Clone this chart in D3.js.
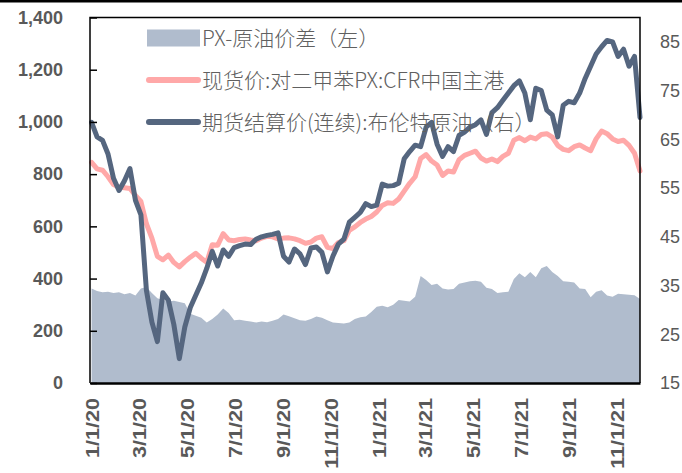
<!DOCTYPE html>
<html>
<head>
<meta charset="utf-8">
<script src="https://cdn.jsdelivr.net/npm/d3@7"></script>
<style>
  html, body { margin: 0; padding: 0; background: #fff; }
  svg { display: block; }
</style>
</head>
<body>
<svg id="chart" width="682" height="473"></svg>
<script>
// weekly observations, first one on Fri 3 Jan 2020
var startDate = new Date(2020, 0, 3);

// PX - crude spread, left axis
var spread = [362, 352, 348, 350, 345, 348, 340, 345, 335, 362,
  368, 345, 325, 318, 312, 315, 310, 305, 265, 258,
  250, 232, 245, 262, 285, 268, 240, 242, 238, 236,
  232, 236, 233, 238, 245, 262, 256, 248, 240, 238,
  245, 255, 250, 240, 232, 230, 228, 232, 245, 252,
  255, 272, 292, 296, 290, 300, 318, 315, 312, 330,
  410, 395, 375, 380, 362, 358, 360, 380, 385, 390,
  392, 388, 365, 360, 345, 348, 350, 398, 420, 405,
  425, 405, 440, 448, 425, 410, 390, 388, 385, 362,
  360, 328, 350, 355, 335, 330, 342, 340, 338, 336, 322];

// spot PX CFR China, left axis
var pxSpot = [845, 820, 815, 790, 760, 750, 748, 745, 718, 695,
  610, 555, 485, 472, 490, 462, 445, 465, 482, 497,
  478, 462, 530, 528, 572, 548, 545, 550, 552, 548,
  545, 555, 562, 560, 552, 555, 556, 552, 545, 535,
  540, 555, 560, 520, 515, 538, 545, 585, 598, 615,
  628, 638, 655, 680, 690, 688, 705, 735, 765, 790,
  860, 875, 850, 835, 795, 812, 808, 855, 872, 880,
  888, 862, 850, 858, 848, 868, 880, 930, 940, 928,
  942, 935, 952, 955, 942, 910, 895, 890, 905, 912,
  900, 890, 935, 965, 955, 935, 925, 930, 910, 880, 812];

// Brent continuous settlement, right axis
var brent = [68.5, 65.5, 64.8, 62, 57, 54.5, 56.5, 59, 52.5, 49.5,
  34, 27.5, 23.5, 33.5, 32, 27, 20, 26.5, 30.5, 33,
  35.5, 38.5, 42, 39, 42.3, 41, 42.8, 43.2, 43.5, 43.4,
  44.5, 45, 45.3, 45.5, 45.8, 41, 39.8, 42.5, 41.5, 39.3,
  42.7, 42.9, 41.8, 37.8, 41, 43.5, 44.5, 48, 49, 50,
  51.8, 51.2, 51.5, 55.8, 55.4, 55.5, 56, 61, 62.5, 63.8,
  63.5, 67.5, 68.5, 64, 61.5, 63.5, 62.5, 65.8, 66.5, 67.5,
  68, 69, 66, 70.5, 71.5, 73, 74.5, 76, 77, 74.5,
  69, 75.5, 75, 71, 70, 65.5, 72, 72.8, 72.5, 74.5,
  77.5, 80, 82.5, 84, 85.3, 85, 82, 83.5, 80, 82, 69.5];

var leftTicks = [0, 200, 400, 600, 800, 1000, 1200, 1400];
var rightTicks = [15, 25, 35, 45, 55, 65, 75, 85];
var dateTicks = ["2020-01-01", "2020-03-01", "2020-05-01", "2020-07-01", "2020-09-01", "2020-11-01",
  "2021-01-01", "2021-03-01", "2021-05-01", "2021-07-01", "2021-09-01", "2021-11-01"];

var legendNames = ["PX-原油价差（左）", "现货价:对二甲苯PX:CFR中国主港", "期货结算价(连续):布伦特原油（右）"];

(function () {
var dates = spread.map(function (d, i) { return d3.timeDay.offset(startDate, 7 * i); });
var parseDay = d3.timeParse("%Y-%m-%d");

var svg = d3.select("#chart"),
    pLeft = 90, pRight = 640, pTop = 17.5, pBottom = 383;

var x = d3.scaleTime()
    .domain([new Date(2020, 0, 1), dates[dates.length - 1]])
    .range([pLeft, pRight]);
var yL = d3.scaleLinear().domain([0, 1400]).range([pBottom, pTop]);
var yR = d3.scaleLinear().domain([15, 90]).range([pBottom, pTop]);

var cArea = "#b0bccd", cPink = "#ffa8a8", cBlue = "#55667f", cText = "#595959";

// frame line at very top of picture
svg.append("rect").attr("x", 0).attr("y", 0).attr("width", 682).attr("height", 2.5).attr("fill", "#000");

// area
var area = d3.area()
    .x(function (d, i) { return x(dates[i]); })
    .y0(yL(0))
    .y1(function (d) { return yL(d); });
svg.append("path").datum(spread).attr("d", area).attr("fill", cArea);

var linePx = d3.line()
    .x(function (d, i) { return x(dates[i]); })
    .y(function (d) { return yL(d); });
svg.append("path").datum(pxSpot).attr("d", linePx)
    .attr("fill", "none").attr("stroke", cPink).attr("stroke-width", 5)
    .attr("stroke-linejoin", "round").attr("stroke-linecap", "round");

var lineBrent = d3.line()
    .x(function (d, i) { return x(dates[i]); })
    .y(function (d) { return yR(d); });
svg.append("path").datum(brent).attr("d", lineBrent)
    .attr("fill", "none").attr("stroke", cBlue).attr("stroke-width", 5)
    .attr("stroke-linejoin", "round").attr("stroke-linecap", "round");

// plot frame
svg.append("path")
    .attr("d", "M" + pLeft + "," + pBottom + "V" + pTop + "H" + pRight + "V" + pBottom)
    .attr("fill", "none").attr("stroke", "#000").attr("stroke-width", 1.5);

// left axis
var gL = svg.append("g").attr("transform", "translate(" + pLeft + ",0)")
    .call(d3.axisLeft(yL).tickValues(leftTicks).tickFormat(d3.format(",")).tickSize(-7).tickPadding(27));
gL.select(".domain").remove();
gL.selectAll(".tick line").attr("stroke", "#000").attr("stroke-width", 1.5);
gL.selectAll("text").attr("fill", cText)
    .style("font-family", "'Liberation Sans', Arial, sans-serif")
    .style("font-size", "18px").style("font-weight", "bold");

// right axis
var gR = svg.append("g").attr("transform", "translate(" + pRight + ",0)")
    .call(d3.axisRight(yR).tickValues(rightTicks).tickSize(0).tickPadding(20));
gR.select(".domain").remove();
gR.selectAll("text").attr("fill", cText)
    .style("font-family", "'Liberation Sans', Arial, sans-serif")
    .style("font-size", "18px");

// bottom axis
var gX = svg.append("g").attr("transform", "translate(0," + pBottom + ")")
    .call(d3.axisBottom(x).tickValues(dateTicks.map(parseDay)).tickFormat(d3.timeFormat("%-m/%-d/%y")).tickSize(0));
gX.select(".domain").attr("stroke", "#000").attr("stroke-width", 2.5);
gX.selectAll("text")
    .attr("fill", cText)
    .attr("text-anchor", "end")
    .attr("x", 0).attr("y", 0).attr("dy", "0.36em")
    .attr("transform", "translate(2,15) rotate(-90) scale(1.2,1)")
    .style("font-family", "'Liberation Sans', Arial, sans-serif")
    .style("font-size", "18px").style("font-weight", "bold");

// legend
var lg = svg.append("g").attr("transform", "translate(147,0)");
var rows = [38, 80, 122];
lg.append("rect").attr("x", 0).attr("y", rows[0] - 8.5).attr("width", 53).attr("height", 17).attr("fill", cArea);
lg.append("line").attr("x1", 2).attr("x2", 51).attr("y1", rows[1]).attr("y2", rows[1])
    .attr("stroke", cPink).attr("stroke-width", 6).attr("stroke-linecap", "round");
lg.append("line").attr("x1", 2).attr("x2", 51).attr("y1", rows[2]).attr("y2", rows[2])
    .attr("stroke", cBlue).attr("stroke-width", 6).attr("stroke-linecap", "round");
lg.selectAll("text.lab").data(legendNames).enter().append("text")
    .attr("class", "lab")
    .attr("x", 55)
    .attr("y", function (d, i) { return rows[i]; })
    .attr("dy", "0.36em")
    .attr("fill", "#606060")
    .style("font-family", "'Noto Sans CJK SC', 'Noto Sans', sans-serif")
    .style("font-size", "21px")
    .style("font-weight", "300")
    .text(function (d) { return d; });
})();
</script>
</body>
</html>
